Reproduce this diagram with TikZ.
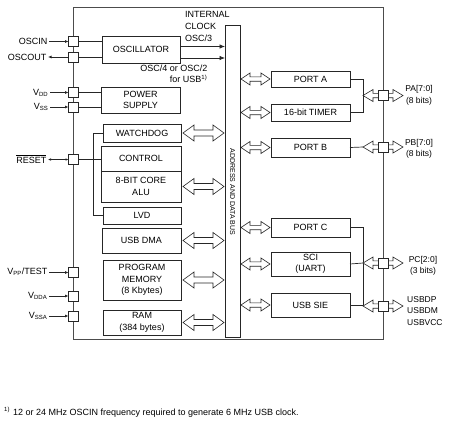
\documentclass[tikz,border=0pt]{standalone}
\usepackage{fontspec}
\setmainfont{Liberation Sans}
\usetikzlibrary{arrows.meta,calc}
% hollow double arrow: #1 start, #2 end, #3 head half height, #4 shaft half height, #5 head length
\newcommand\harrow[5]{%
  \draw[hollow] let \p1=#1, \p2=#2 in
   (\x1,\y1) -- (\x1+#5,\y1+#3) -- (\x1+#5,\y1+#4) -- (\x2-#5,\y1+#4) -- (\x2-#5,\y1+#3)
   -- (\x2,\y1) -- (\x2-#5,\y1-#3) -- (\x2-#5,\y1-#4) -- (\x1+#5,\y1-#4) -- (\x1+#5,\y1-#3) -- cycle;}
\begin{document}
\begin{tikzpicture}[x=1pt,y=-1pt,
  font=\fontsize{9}{11.5}\selectfont,
  frame/.style={draw=black!70, line width=0.8pt},
  blk/.style={draw=black!85, line width=0.7pt, inner sep=0pt, outer sep=0pt, anchor=north west, align=center},
  pin/.style={draw=black!85, fill=white, line width=0.7pt, minimum size=10pt, inner sep=0pt, outer sep=0pt},
  wire/.style={draw=black!85, line width=0.7pt},
  hollow/.style={draw=black!85, fill=white, line width=0.6pt, line join=miter},
  sarrow/.style={wire, -{Latex[length=3.5pt,width=3pt]}},
  darrow/.style={wire, {Latex[length=3pt,width=2.6pt]}-{Latex[length=3pt,width=2.6pt]}},
  fatarrow/.style={wire, -{Latex[length=5.5pt,width=4.5pt]}},
  lbl/.style={inner sep=1.5pt, anchor=east},
  rlbl/.style={font=\fontsize{8.5}{11.5}\selectfont, align=center, inner sep=0pt}]
\useasboundingbox (0,0) rectangle (450,421);

% outer frame and bus
\node[frame, minimum width=309.5pt, minimum height=332pt, anchor=north west, inner sep=0pt, outer sep=0pt] (chip) at (73.5,7) {};
\node[blk, minimum width=15pt, minimum height=312pt] (bus) at (225,25) {};
\node[rotate=-90, font=\fontsize{7}{8}\selectfont, inner sep=0pt] (buslbl) at (232.5,192) {ADDRESS AND DATA BUS};

% left blocks
\node[blk, minimum width=78pt, minimum height=27pt] (osc) at (102,36) {OSCILLATOR};
\node[blk, minimum width=79pt, minimum height=26pt] (pwr) at (101,87) {POWER\\SUPPLY};
\node[blk, minimum width=78pt, minimum height=18pt] (wd) at (103,124) {WATCHDOG};
\node[blk, minimum width=80pt, minimum height=25pt] (ctrl) at (101,146) {CONTROL};
\node[blk, minimum width=80pt, minimum height=31pt] (alu) at (101,171) {8-BIT CORE\\ALU};
\node[blk, minimum width=78pt, minimum height=17pt] (lvd) at (103,207) {LVD};
\node[blk, minimum width=79pt, minimum height=25pt] (dma) at (102,228) {USB DMA};
\node[blk, minimum width=78pt, minimum height=40pt] (pmem) at (103,260) {PROGRAM\\MEMORY\\(8 Kbytes)};
\node[blk, minimum width=78pt, minimum height=25pt] (ram) at (103,310) {RAM\\(384 bytes)};

% right blocks
\node[blk, minimum width=79pt, minimum height=16pt] (porta) at (271,71) {PORT A};
\node[blk, minimum width=79pt, minimum height=17pt] (timer) at (271,104) {16-bit TIMER};
\node[blk, minimum width=79pt, minimum height=19pt] (portb) at (271,138) {PORT B};
\node[blk, minimum width=79pt, minimum height=19pt] (portc) at (271,218) {PORT C};
\node[blk, minimum width=79pt, minimum height=24pt] (sci) at (271,252) {SCI\\(UART)};
\node[blk, minimum width=79pt, minimum height=24pt] (sie) at (271,293) {USB SIE};

% left pins
\node[pin] (pOscin) at (73.5,41.5) {};
\node[pin] (pOscout) at (73.5,57) {};
\node[pin] (pVdd) at (73.5,92.5) {};
\node[pin] (pVss) at (73.5,107) {};
\node[pin] (pReset) at (73.5,159.5) {};
\node[pin] (pVpp) at (73.5,272.5) {};
\node[pin] (pVdda) at (73.5,296) {};
\node[pin] (pVssa) at (73.5,316) {};

% left labels
\node[lbl] (lOscin) at (49,41.5) {OSCIN};
\node[lbl] (lOscout) at (48,57) {OSCOUT};
\node[lbl] (lVdd) at (50,92.5) {V\textsubscript{DD}};
\node[lbl] (lVss) at (50,107) {V\textsubscript{SS}};
\node[lbl] (lReset) at (48,159) {\(\overline{\hbox{RESET}}\)};
\node[lbl] (lVpp) at (49,272) {V\textsubscript{PP}/TEST};
\node[lbl] (lVdda) at (49,296) {V\textsubscript{DDA}};
\node[lbl] (lVssa) at (49,316) {V\textsubscript{SSA}};

\draw[sarrow] (lOscin) -- (pOscin);
\draw[sarrow] (pOscout) -- (lOscout);
\draw[sarrow] (lVdd) -- (pVdd);
\draw[sarrow] (lVss) -- (pVss);
\draw[darrow] (lReset.east |- pReset) -- (pReset);
\draw[sarrow] (lVpp.east |- pVpp) -- (pVpp);
\draw[sarrow] (lVdda) -- (pVdda);
\draw[sarrow] (lVssa) -- (pVssa);

% pin wires
\draw[wire] (pOscin) -- (osc.west |- pOscin);
\draw[wire] (pOscout) -- (osc.west |- pOscout);
\draw[wire] (pVdd) -- (pwr.west |- pVdd);
\draw[wire] (pVss) -- (pwr.west |- pVss);
\draw[wire] (pReset) -- (ctrl.west |- pReset);
\coordinate (brk) at (93,133);
\draw[wire] (wd.west) -- (brk) -- (brk |- lvd.west) -- (lvd.west);

% oscillator clocks
\draw[fatarrow] (osc.east |- 0,46.5) -- (bus.west |- 0,46.5);
\draw[fatarrow] (osc.east |- 0,58) -- (bus.west |- 0,58);
\node[anchor=west, align=left, inner sep=0pt] (lclk) at (185,20.5) {INTERNAL\\CLOCK};
\node[anchor=west, inner sep=0pt] (losc3) at (185,38) {OSC/3};
\node[anchor=east, align=right, inner sep=0pt] (losc4) at (207.5,74) {OSC/4 or OSC/2\\for USB\textsuperscript{1)}};

% hollow arrows left blocks <-> bus
\harrow{($(wd.east)+(2,0)$)}{($(bus.west |- wd.east)+(-1,0)$)}{8pt}{3pt}{11pt}
\harrow{($(alu.east)+(2,0)$)}{($(bus.west |- alu.east)+(-1,0)$)}{8pt}{3pt}{11pt}
\harrow{($(dma.east)+(2,0)$)}{($(bus.west |- dma.east)+(-1,0)$)}{8pt}{3pt}{11pt}
\harrow{($(pmem.east)+(2,0)$)}{($(bus.west |- pmem.east)+(-1,0)$)}{8pt}{3pt}{11pt}
\harrow{($(ram.east)+(2,0)$)}{($(bus.west |- ram.east)+(-1,0)$)}{8pt}{3pt}{11pt}

% hollow arrows bus <-> ports
\harrow{($(bus.east |- porta.west)+(1,0)$)}{($(porta.west)+(-1,0)$)}{6pt}{2.2pt}{9pt}
\harrow{($(bus.east |- timer.west)+(1,0)$)}{($(timer.west)+(-1,0)$)}{6pt}{2.2pt}{9pt}
\harrow{($(bus.east |- portb.west)+(1,0)$)}{($(portb.west)+(-1,0)$)}{6pt}{2.2pt}{9pt}
\harrow{($(bus.east |- portc.west)+(1,0)$)}{($(portc.west)+(-1,0)$)}{6pt}{2.2pt}{9pt}
\harrow{($(bus.east |- sci.west)+(1,0)$)}{($(sci.west)+(-1,0)$)}{6pt}{2.2pt}{9pt}
\harrow{($(bus.east |- sie.west)+(1,0)$)}{($(sie.west)+(-1,0)$)}{6pt}{2.2pt}{9pt}

% right side connections
\coordinate (ja) at (363,95.5);
\coordinate (jb) at (363,147);
\coordinate (jc) at (363,263);
\coordinate (jd) at (363,306);
\coordinate (ea) at (403,95.5);
\coordinate (eb) at (403,147);
\coordinate (ec) at (403,263);
\coordinate (ed) at (403,306);
\draw[wire] (porta.east) -- (porta.east -| ja) -- (timer.east -| ja) -- (timer.east);
\draw[wire] (portb.east) -- (jb);
\draw[wire] (portc.east) -- (portc.east -| jc) -- (sie.east -| jc) -- (sie.east);
\draw[wire] (sci.east) -- (jc);
\harrow{(ja)}{(ea)}{6pt}{2.2pt}{10pt}
\harrow{(jb)}{(eb)}{6pt}{2.2pt}{10pt}
\harrow{(jc)}{(ec)}{6pt}{2.2pt}{10pt}
\harrow{(jd)}{(ed)}{6pt}{2.2pt}{10pt}
\node[pin] (pPA) at (ja -| chip.east) {};
\node[pin] (pPB) at (jb -| chip.east) {};
\node[pin] (pPC) at (jc -| chip.east) {};
\node[pin] (pUSB) at (jd -| chip.east) {};

% right labels
\node[rlbl] (lPA) at (419,95.5) {PA[7:0]\\(8 bits)};
\node[rlbl] (lPB) at (419,149) {PB[7:0]\\(8 bits)};
\node[rlbl] (lPC) at (423,266) {PC[2:0]\\(3 bits)};
\node[rlbl, align=left, anchor=north west] (lUSB) at (407,296) {USBDP\\USBDM\\USBVCC};

% footnote
\node[anchor=base west, inner sep=0pt] (fn) at (4,415.5) {\textsuperscript{1)}\hspace{3pt}12 or 24 MHz OSCIN frequency required to generate 6 MHz USB clock.};
\end{tikzpicture}
\end{document}
